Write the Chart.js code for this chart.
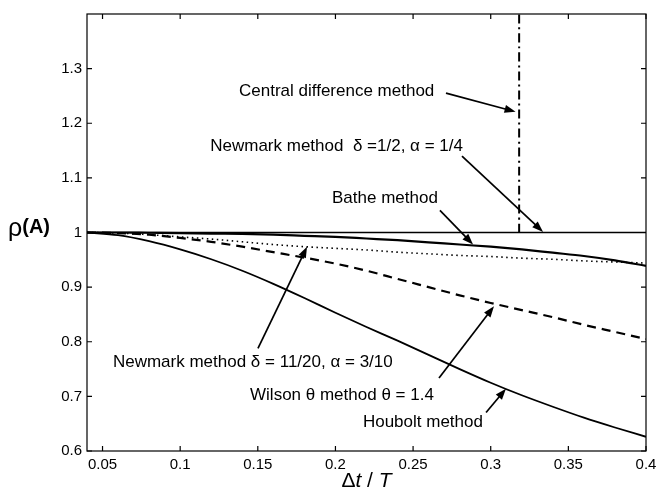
<!DOCTYPE html>
<html><head><meta charset="utf-8">
<script src="https://cdn.jsdelivr.net/npm/chart.js@4.4.0/dist/chart.umd.min.js"></script>
<style>html,body{margin:0;padding:0;background:#fff}</style>
</head><body>
<canvas id="c" width="662" height="498"></canvas>
<script>
// ---- data ----
const dtT          = [0.04,0.06,0.08,0.10,0.12,0.14,0.16,0.18,0.20,0.22,0.24,0.26,0.28,0.30,0.32,0.34,0.36,0.38,0.40];
const houbolt      = [1.000,0.995,0.984,0.969,0.951,0.930,0.906,0.880,0.853,0.827,0.802,0.776,0.750,0.725,0.702,0.681,0.661,0.643,0.626];
const wilson       = [1.000,0.999,0.996,0.990,0.983,0.974,0.964,0.954,0.943,0.930,0.915,0.900,0.885,0.871,0.858,0.845,0.831,0.818,0.805];
const newmark1120  = [1.000,0.999,0.996,0.992,0.988,0.983,0.978,0.974,0.971,0.968,0.964,0.961,0.958,0.956,0.953,0.951,0.948,0.946,0.944];
const bathe        = [1.000,1.000,0.9995,0.999,0.998,0.9975,0.996,0.994,0.992,0.989,0.986,0.982,0.978,0.974,0.969,0.963,0.957,0.949,0.939];
const trapX        = [0.04,0.40];
const trapezoidal  = [1.0,1.0];
const centralX     = [0.3183,0.3183];
const centralDiff  = [1.0,1.45];
const xTicks = [0.05,0.1,0.15,0.2,0.25,0.3,0.35,0.4];
const yTicks = [0.6,0.7,0.8,0.9,1,1.1,1.2,1.3];

const pts = (xs, ys) => xs.map((x,i)=>({x, y: ys[i]}));

// ---- annotations (data coordinates) ----
const notes = [
  {text:'Central difference method', x:0.1379, y:1.2588, from:[0.2712,1.2552], to:[0.3160,1.2210]},
  {text:'Newmark method  \u03B4 =1/2, \u03B1 = 1/4', x:0.2821, y:1.1578, align:'right', from:[0.2815,1.1399], to:[0.3337,1.0010]},
  {text:'Bathe method', x:0.1978, y:1.0621, from:[0.2673,1.0404], to:[0.2886,0.9780]},
  {text:'Newmark method \u03B4 = 11/20, \u03B1 = 3/10', x:0.0567, y:0.7625, from:[0.1501,0.7877], to:[0.1817,0.9740]},
  {text:'Wilson \u03B8 method \u03B8 = 1.4', x:0.1450, y:0.7011, from:[0.2667,0.7336], to:[0.3021,0.8650]},
  {text:'Houbolt method', x:0.2177, y:0.6523, from:[0.2970,0.6704], to:[0.3098,0.7140]}
];

const INK = '#000';
const FONT = '"Liberation Sans", Arial, sans-serif';

const decor = {
  id:'decor',
  afterDatasetsDraw(chart){
    const {ctx, chartArea:a, scales:{x, y}} = chart;
    ctx.save();
    // frame
    ctx.strokeStyle = INK; ctx.lineWidth = 1.2;
    ctx.strokeRect(a.left, a.top, a.right-a.left, a.bottom-a.top);
    // inward ticks
    const L = 5;
    ctx.beginPath();
    xTicks.forEach(v=>{ const px = x.getPixelForValue(v);
      ctx.moveTo(px, a.bottom); ctx.lineTo(px, a.bottom-L);
      ctx.moveTo(px, a.top); ctx.lineTo(px, a.top+L); });
    yTicks.forEach(v=>{ const py = y.getPixelForValue(v);
      ctx.moveTo(a.left, py); ctx.lineTo(a.left+L, py);
      ctx.moveTo(a.right, py); ctx.lineTo(a.right-L, py); });
    ctx.stroke();
    // annotations
    ctx.fillStyle = INK;
    ctx.font = '17px ' + FONT;
    ctx.textBaseline = 'middle';
    notes.forEach(n=>{
      ctx.textAlign = n.align || 'left';
      ctx.fillText(n.text, x.getPixelForValue(n.x), y.getPixelForValue(n.y));
      const x0 = x.getPixelForValue(n.from[0]), y0 = y.getPixelForValue(n.from[1]);
      const x1 = x.getPixelForValue(n.to[0]),   y1 = y.getPixelForValue(n.to[1]);
      const ang = Math.atan2(y1-y0, x1-x0), hl = 11, hw = 4;
      ctx.lineWidth = 1.7; ctx.strokeStyle = INK;
      ctx.beginPath(); ctx.moveTo(x0,y0);
      ctx.lineTo(x1 - hl*Math.cos(ang)*0.8, y1 - hl*Math.sin(ang)*0.8); ctx.stroke();
      ctx.beginPath();
      ctx.moveTo(x1, y1);
      ctx.lineTo(x1 - hl*Math.cos(ang) + hw*Math.sin(ang), y1 - hl*Math.sin(ang) - hw*Math.cos(ang));
      ctx.lineTo(x1 - hl*Math.cos(ang) - hw*Math.sin(ang), y1 - hl*Math.sin(ang) + hw*Math.cos(ang));
      ctx.closePath(); ctx.fill();
    });
    // axis titles
    ctx.textAlign = 'left';
    ctx.font = '25px ' + FONT;
    ctx.fillText('\u03C1', 8, 229);
    let w = ctx.measureText('\u03C1').width;
    ctx.font = 'bold 20px ' + FONT;
    ctx.fillText('(A)', 8 + w, 227);
    const cx = (a.left + a.right)/2, ty = 481;
    const parts = [['\u0394','21px '],['t','italic 21px '],[' / ','21px '],['T','italic 21px ']];
    let total = 0;
    parts.forEach(p=>{ ctx.font = p[1]+FONT; total += ctx.measureText(p[0]).width; });
    let px = cx - total/2;
    parts.forEach(p=>{ ctx.font = p[1]+FONT; ctx.fillText(p[0], px, ty); px += ctx.measureText(p[0]).width; });
    ctx.restore();
  }
};

const lineDs = (label, data, extra) => Object.assign({
  label, data, borderColor: INK, borderWidth: 1.7, pointRadius: 0,
  fill:false, cubicInterpolationMode:'monotone'
}, extra || {});

new Chart(document.getElementById('c'), {
  type:'line',
  data:{ datasets:[
    lineDs('Newmark δ=1/2, α=1/4', pts(trapX, trapezoidal), {borderWidth:1.6}),
    lineDs('Central difference', pts(centralX, centralDiff), {borderDash:[9,4,2,4], borderWidth:2}),
    lineDs('Bathe', pts(dtT, bathe), {borderWidth:2.2}),
    lineDs('Newmark δ=11/20, α=3/10', pts(dtT, newmark1120), {borderDash:[1.5,3.5], borderWidth:1.6}),
    lineDs('Wilson θ=1.4', pts(dtT, wilson), {borderDash:[9,6], borderWidth:2.2}),
    lineDs('Houbolt', pts(dtT, houbolt), {borderWidth:1.8})
  ]},
  options:{
    responsive:false, animation:false, devicePixelRatio:1,
    layout:{padding:{left:0, right:16, top:8, bottom:0}},
    plugins:{legend:{display:false}, tooltip:{enabled:false}},
    scales:{
      x:{ type:'linear', min:0.04, max:0.4,
        grid:{display:false, drawTicks:false, tickLength:0}, border:{display:false},
        afterBuildTicks: s => { s.ticks = xTicks.map(v=>({value:v})); },
        afterFit: s => { s.height = 47; },
        ticks:{ color:INK, font:{family:FONT, size:15}, padding:5, maxRotation:0, autoSkip:false,
          callback: v => String(v) } },
      y:{ type:'linear', min:0.6, max:1.4,
        grid:{display:false, drawTicks:false, tickLength:0}, border:{display:false},
        afterBuildTicks: s => { s.ticks = yTicks.map(v=>({value:v})); },
        afterFit: s => { s.width = 87; },
        ticks:{ color:INK, font:{family:FONT, size:15}, padding:5, autoSkip:false,
          callback: v => String(v) } }
    }
  },
  plugins:[decor]
});
</script>
</body></html>
